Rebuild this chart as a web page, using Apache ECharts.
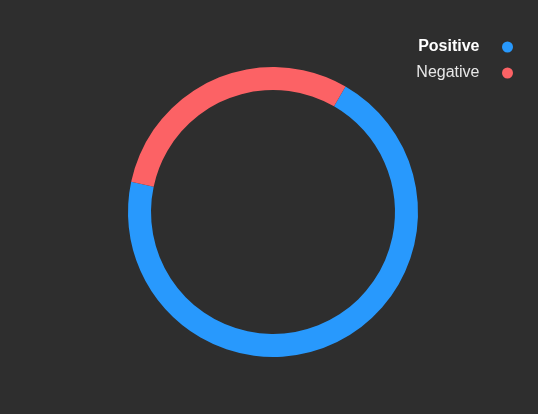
<!DOCTYPE html>
<html>
<head>
<meta charset="utf-8">
<script src="https://cdn.jsdelivr.net/npm/echarts@6/dist/echarts.min.js"></script>
<style>
html,body{margin:0;padding:0;background:#2e2e2e;}
#c{width:538px;height:414px;}
</style>
</head>
<body>
<div id="c"></div>
<script>
const categories = ['Positive', 'Negative'];
const values = [70, 30];
const colors = ['#2899fd', '#fc6265'];

const chart = echarts.init(document.getElementById('c'), null, {renderer: 'canvas'});
chart.setOption({
  backgroundColor: '#2e2e2e',
  animation: false,
  legend: {
    orient: 'vertical',
    right: 20,
    top: 34,
    align: 'right',
    icon: 'circle',
    itemWidth: 46,
    itemHeight: 11,
    itemGap: 10,
    data: categories,
    formatter: function (name) {
      return name === 'Positive' ? '{b|' + name + '}' : '{n|' + name + '}';
    },
    textStyle: {
      fontFamily: 'Liberation Sans, Arial, sans-serif',
      fontSize: 16,
      color: '#eeeeee',
      rich: {
        b: {fontFamily: 'Liberation Sans, Arial, sans-serif', fontSize: 16, fontWeight: 'bold', color: '#ffffff'},
        n: {fontFamily: 'Liberation Sans, Arial, sans-serif', fontSize: 16, color: '#e8e8e8'}
      }
    }
  },
  series: [{
    type: 'pie',
    center: [273, 212],
    radius: [122, 145],
    startAngle: 60,
    clockwise: true,
    label: {show: false},
    labelLine: {show: false},
    itemStyle: {borderWidth: 0},
    data: categories.map((n, i) => ({name: n, value: values[i], itemStyle: {color: colors[i]}}))
  }]
});
</script>
</body>
</html>
